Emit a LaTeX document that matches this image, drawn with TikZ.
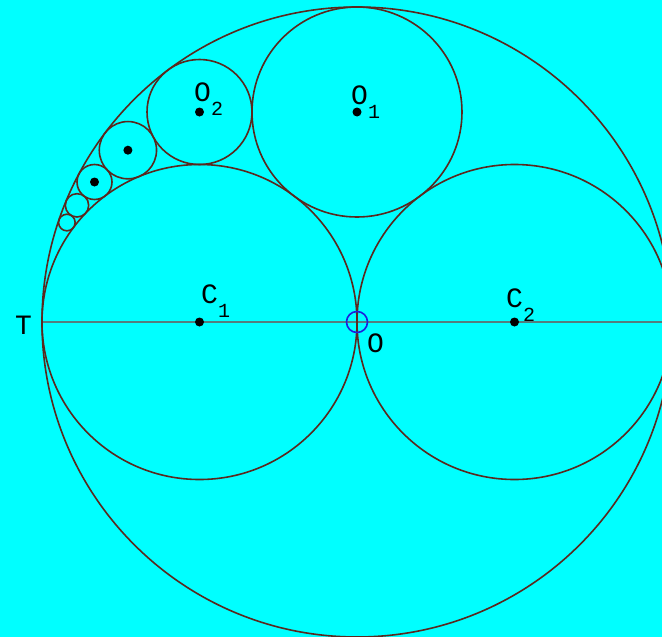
\documentclass[tikz,border=0pt]{standalone}
\usepackage{fontspec}
\setmainfont{Liberation Mono}
\usepackage{tikz}
\usetikzlibrary{calc}
\definecolor{BgCyan}{RGB}{0,255,255}
\definecolor{RingBrown}{RGB}{90,40,30}
\definecolor{AxisGray}{RGB}{85,125,125}
\definecolor{MarkBlue}{RGB}{30,30,220}
\newcommand{\lowsub}[1]{\raisebox{-14pt}{\fontsize{20}{20}\selectfont #1}}

\begin{document}
\begin{tikzpicture}[
    x=1pt,
    y=-1pt,
    ring/.style={draw=RingBrown, line width=1.6pt},
    dot/.style={fill=black},
    lab/.style={anchor=base west, inner sep=0pt, font=\fontsize{28}{28}\selectfont, text=black}
]

% =====================================================
% BACKGROUND PANEL
% =====================================================
\useasboundingbox (0,0) rectangle (662,637);
\clip (0,0) rectangle (662,637);
\fill[BgCyan] (0,0) rectangle (662,637);

% =====================================================
% CENTRES
% =====================================================
\coordinate (T) at (42,322);
\coordinate (O) at (357,322);
\coordinate (C1) at (199.5,322);
\coordinate (C2) at (514.5,322);
\coordinate (E) at (662,322);

% =====================================================
% AXIS
% =====================================================
\draw[AxisGray, line width=1.6pt] (T) -- (E);

% =====================================================
% BIG CIRCLE AND TWO HALVES
% =====================================================
\draw[ring] (O) circle[radius=315pt];
\draw[ring] (C1) circle[radius=157.5pt];
\draw[ring] (C2) circle[radius=157.5pt];

% =====================================================
% CHAIN OF TANGENT CIRCLES
% =====================================================
\foreach \n in {1,...,6}{
    \pgfmathsetmacro{\cx}{42+945/(\n*\n+2)}
    \pgfmathsetmacro{\cy}{322-630*\n/(\n*\n+2)}
    \pgfmathsetmacro{\cr}{315/(\n*\n+2)}
    \coordinate (K\n) at (\cx,\cy);
    \draw[ring] (K\n) circle[radius=\cr pt];
}
\coordinate (O1) at (K1);
\coordinate (O2) at (K2);

% centre dots
\foreach \p in {C1,C2,O1,O2,K3,K4}{
    \fill[dot] (\p) circle[radius=4.5pt];
}

% small marker at O
\draw[MarkBlue, line width=1.6pt] (O) circle[radius=10.5pt];

% =====================================================
% LABELS
% =====================================================
\node[lab] (labT) at (15,334) {T};
\node[lab] (labO) at (367,352) {O};
\node[lab] (labC1) at (201,303) {C\lowsub{1}};
\node[lab] (labC2) at (506,307) {C\lowsub{2}};
\node[lab] (labO1) at (351,104) {O\lowsub{1}};
\node[lab] (labO2) at (194,101) {O\lowsub{2}};

\end{tikzpicture}
\end{document}
